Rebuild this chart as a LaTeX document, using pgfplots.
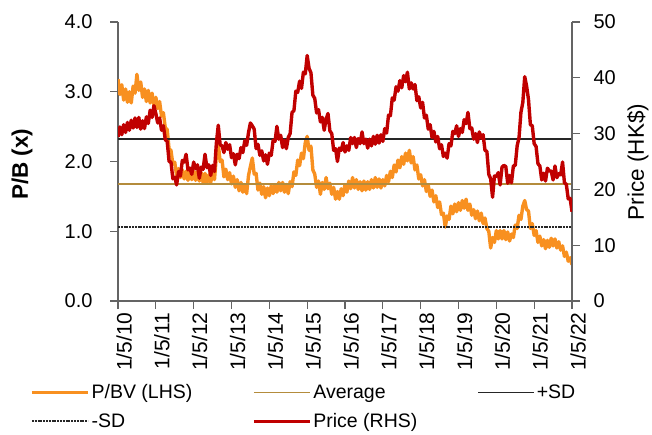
\documentclass[border=0pt]{standalone}
\usepackage{fontspec}
\setmainfont{Liberation Sans}
\usepackage{pgfplots}
\usepackage{pgfplotstable}
\pgfplotsset{compat=1.18}
\definecolor{pbor}{RGB}{248,144,32}
\definecolor{prred}{RGB}{192,0,0}
\definecolor{avtan}{RGB}{180,140,60}
\definecolor{axgray}{RGB}{100,100,100}

\pgfplotstableread{
x y
2010.00 3.18
2010.05 2.96
2010.10 3.10
2010.15 2.88
2010.20 3.04
2010.25 2.85
2010.30 3.00
2010.35 2.84
2010.40 3.08
2010.45 2.98
2010.50 3.25
2010.55 3.02
2010.60 3.14
2010.65 2.92
2010.70 3.04
2010.75 2.86
2010.80 3.02
2010.85 2.84
2010.90 2.98
2010.95 2.80
2011.00 2.92
2011.05 2.76
2011.10 2.86
2011.15 2.65
2011.20 2.70
2011.25 2.48
2011.30 2.46
2011.35 2.18
2011.40 2.16
2011.45 1.96
2011.50 1.99
2011.55 1.79
2011.60 1.90
2011.65 1.77
2011.70 1.88
2011.75 1.75
2011.80 1.86
2011.85 1.73
2011.90 1.87
2011.95 1.74
2012.00 1.86
2012.05 1.73
2012.10 1.86
2012.15 1.72
2012.20 1.84
2012.25 1.70
2012.30 1.83
2012.35 1.69
2012.40 1.81
2012.45 1.70
2012.50 1.84
2012.55 1.74
2012.60 2.08
2012.65 2.25
2012.70 2.00
2012.75 2.02
2012.80 1.78
2012.85 1.89
2012.90 1.74
2012.95 1.84
2013.00 1.68
2013.05 1.79
2013.10 1.63
2013.15 1.74
2013.20 1.58
2013.25 1.70
2013.30 1.56
2013.35 1.67
2013.40 1.54
2013.45 1.80
2013.50 1.93
2013.55 2.05
2013.60 1.82
2013.65 1.83
2013.70 1.59
2013.75 1.69
2013.80 1.53
2013.85 1.64
2013.90 1.48
2013.95 1.62
2014.00 1.51
2014.05 1.65
2014.10 1.54
2014.15 1.67
2014.20 1.56
2014.25 1.70
2014.30 1.58
2014.35 1.70
2014.40 1.56
2014.45 1.67
2014.50 1.54
2014.55 1.71
2014.60 1.64
2014.65 1.85
2014.70 1.80
2014.75 2.02
2014.80 1.94
2014.85 2.12
2014.90 2.04
2014.95 2.27
2015.00 2.36
2015.05 2.16
2015.10 2.22
2015.15 1.88
2015.20 1.82
2015.25 1.63
2015.30 1.72
2015.35 1.53
2015.40 1.70
2015.45 1.60
2015.50 1.77
2015.55 1.61
2015.60 1.69
2015.65 1.53
2015.70 1.63
2015.75 1.46
2015.80 1.57
2015.85 1.46
2015.90 1.61
2015.95 1.51
2016.00 1.67
2016.05 1.56
2016.10 1.72
2016.15 1.61
2016.20 1.77
2016.25 1.62
2016.30 1.74
2016.35 1.60
2016.40 1.71
2016.45 1.58
2016.50 1.72
2016.55 1.59
2016.60 1.71
2016.65 1.60
2016.70 1.74
2016.75 1.62
2016.80 1.77
2016.85 1.63
2016.90 1.75
2016.95 1.62
2017.00 1.74
2017.05 1.65
2017.10 1.80
2017.15 1.71
2017.20 1.86
2017.25 1.77
2017.30 1.95
2017.35 1.85
2017.40 2.02
2017.45 1.91
2017.50 2.07
2017.55 1.96
2017.60 2.12
2017.65 2.01
2017.70 2.16
2017.75 1.98
2017.80 2.07
2017.85 1.88
2017.90 1.95
2017.95 1.75
2018.00 1.81
2018.05 1.65
2018.10 1.74
2018.15 1.57
2018.20 1.66
2018.25 1.50
2018.30 1.59
2018.35 1.42
2018.40 1.51
2018.45 1.34
2018.50 1.42
2018.55 1.24
2018.60 1.26
2018.65 1.06
2018.70 1.22
2018.75 1.17
2018.80 1.36
2018.85 1.25
2018.90 1.39
2018.95 1.28
2019.00 1.41
2019.05 1.30
2019.10 1.44
2019.15 1.33
2019.20 1.46
2019.25 1.30
2019.30 1.39
2019.35 1.23
2019.40 1.31
2019.45 1.18
2019.50 1.29
2019.55 1.15
2019.60 1.26
2019.65 1.11
2019.70 1.19
2019.75 1.04
2019.80 1.00
2019.85 0.76
2019.90 0.91
2019.95 0.84
2020.00 1.01
2020.05 0.89
2020.10 1.01
2020.15 0.89
2020.20 1.01
2020.25 0.88
2020.30 0.99
2020.35 0.86
2020.40 0.96
2020.45 0.91
2020.50 1.09
2020.55 1.04
2020.60 1.23
2020.65 1.17
2020.70 1.36
2020.75 1.44
2020.80 1.31
2020.85 1.29
2020.90 1.04
2020.95 1.11
2021.00 0.94
2021.05 1.01
2021.10 0.84
2021.15 0.93
2021.20 0.79
2021.25 0.88
2021.30 0.75
2021.35 0.87
2021.40 0.77
2021.45 0.90
2021.50 0.79
2021.55 0.89
2021.60 0.76
2021.65 0.85
2021.70 0.73
2021.75 0.79
2021.80 0.64
2021.85 0.70
2021.90 0.57
2021.95 0.62
2022.00 0.52
}\pbtable

\pgfplotstableread{
x y
2010.00 29.4
2010.05 31.2
2010.10 29.8
2010.15 31.6
2010.20 30.2
2010.25 32.0
2010.30 30.6
2010.35 32.4
2010.40 31.0
2010.45 32.8
2010.50 31.1
2010.55 32.9
2010.60 30.8
2010.65 32.3
2010.70 30.9
2010.75 33.0
2010.80 31.8
2010.85 34.2
2010.90 32.9
2010.95 35.0
2011.00 33.6
2011.05 31.9
2011.10 32.8
2011.15 30.6
2011.20 31.4
2011.25 28.9
2011.30 28.6
2011.35 25.0
2011.40 24.9
2011.45 21.9
2011.50 22.2
2011.55 20.8
2011.60 23.2
2011.65 22.4
2011.70 25.2
2011.75 24.9
2011.80 26.3
2011.85 23.5
2011.90 23.8
2011.95 22.7
2012.00 24.9
2012.05 23.7
2012.10 24.4
2012.15 22.0
2012.20 24.0
2012.25 23.6
2012.30 26.3
2012.35 23.9
2012.40 24.4
2012.45 22.5
2012.50 24.3
2012.55 23.2
2012.60 28.3
2012.65 31.5
2012.70 28.0
2012.75 27.8
2012.80 26.6
2012.85 28.4
2012.90 27.2
2012.95 28.0
2013.00 25.7
2013.05 26.4
2013.10 24.4
2013.15 26.3
2013.20 25.5
2013.25 27.5
2013.30 26.6
2013.35 28.7
2013.40 27.9
2013.45 30.2
2013.50 31.9
2013.55 31.4
2013.60 30.8
2013.65 27.3
2013.70 28.1
2013.75 26.1
2013.80 26.9
2013.85 25.1
2013.90 26.2
2013.95 24.5
2014.00 26.5
2014.05 26.1
2014.10 28.8
2014.15 28.6
2014.20 31.3
2014.25 29.0
2014.30 29.7
2014.35 27.5
2014.40 28.8
2014.45 27.3
2014.50 29.3
2014.55 30.0
2014.60 33.8
2014.65 34.1
2014.70 37.6
2014.75 37.4
2014.80 39.4
2014.85 38.1
2014.90 41.0
2014.95 40.7
2015.00 44.0
2015.05 41.7
2015.10 40.9
2015.15 36.9
2015.20 36.3
2015.25 33.7
2015.30 34.3
2015.35 32.1
2015.40 32.9
2015.45 30.6
2015.50 32.6
2015.55 33.6
2015.60 30.5
2015.65 30.0
2015.70 27.0
2015.75 27.3
2015.80 25.0
2015.85 27.4
2015.90 27.0
2015.95 28.4
2016.00 26.7
2016.05 27.8
2016.10 27.0
2016.15 29.3
2016.20 28.2
2016.25 29.3
2016.30 27.5
2016.35 29.1
2016.40 28.2
2016.45 30.3
2016.50 28.2
2016.55 29.0
2016.60 27.4
2016.65 29.0
2016.70 27.8
2016.75 29.5
2016.80 28.1
2016.85 29.7
2016.90 28.3
2016.95 29.8
2017.00 28.6
2017.05 30.9
2017.10 30.1
2017.15 33.3
2017.20 33.2
2017.25 36.4
2017.30 36.0
2017.35 38.4
2017.40 37.6
2017.45 39.5
2017.50 38.2
2017.55 40.4
2017.60 39.3
2017.65 41.0
2017.70 38.0
2017.75 39.1
2017.80 38.0
2017.85 38.8
2017.90 35.9
2017.95 36.6
2018.00 34.6
2018.05 35.6
2018.10 32.8
2018.15 33.3
2018.20 30.8
2018.25 31.6
2018.30 29.3
2018.35 30.4
2018.40 28.5
2018.45 29.5
2018.50 27.3
2018.55 28.0
2018.60 25.9
2018.65 26.5
2018.70 25.6
2018.75 28.2
2018.80 27.8
2018.85 30.4
2018.90 30.0
2018.95 31.4
2019.00 29.5
2019.05 30.9
2019.10 30.2
2019.15 32.5
2019.20 31.8
2019.25 33.8
2019.30 30.9
2019.35 31.0
2019.40 29.0
2019.45 30.0
2019.50 28.4
2019.55 30.3
2019.60 29.2
2019.65 29.8
2019.70 27.0
2019.75 26.8
2019.80 22.7
2019.85 21.9
2019.90 18.6
2019.95 22.4
2020.00 22.3
2020.05 23.0
2020.10 20.8
2020.15 24.0
2020.20 24.3
2020.25 24.1
2020.30 21.1
2020.35 22.5
2020.40 21.2
2020.45 24.2
2020.50 24.3
2020.55 27.8
2020.60 29.3
2020.65 33.8
2020.70 35.6
2020.75 40.2
2020.80 38.5
2020.85 36.1
2020.90 31.6
2020.95 31.4
2021.00 28.2
2021.05 27.7
2021.10 24.6
2021.15 24.2
2021.20 21.7
2021.25 22.9
2021.30 21.5
2021.35 23.8
2021.40 23.3
2021.45 23.3
2021.50 21.7
2021.55 24.2
2021.60 22.1
2021.65 22.8
2021.70 22.6
2021.75 24.9
2021.80 21.2
2021.85 20.9
2021.90 18.3
2021.95 18.4
2022.00 16.0
}\pricetable

\begin{document}
\begin{tikzpicture}
\useasboundingbox (0,0) rectangle (652pt,434pt);
\pgfplotsset{
  every axis/.append style={
    at={(118pt,133pt)}, anchor=south west,
    scale only axis, width=454pt, height=279pt,
    xmin=2010, xmax=2022,
    axis line style={draw=axgray, line width=1.3pt},
    tick style={draw=axgray, line width=1.2pt},
    tick align=outside, major tick length=8pt,
    tick label style={font=\fontsize{20}{24}\selectfont, text=black},
    /pgf/number format/assume math mode=true,
    label style={font=\fontsize{22.5}{26}\selectfont},
  }
}
\begin{axis}[
  axis y line*=left, axis x line*=bottom,
  ymin=0, ymax=4, ytick={0,1,2,3,4},
  yticklabel style={/pgf/number format/.cd, fixed, fixed zerofill, precision=1, /tikz/.cd, xshift=-14pt},
  xtick={2010,2011,...,2022},
  xticklabels={1/5/10,1/5/11,1/5/12,1/5/13,1/5/14,1/5/15,1/5/16,1/5/17,1/5/18,1/5/19,1/5/20,1/5/21,1/5/22},
  xticklabel style={rotate=90, anchor=east, yshift=-6pt, font=\fontsize{21}{24}\selectfont},
  ylabel={\bfseries P/B (x)},
  ylabel style={at={(axis description cs:-0.2115,0.49)}, anchor=center, rotate=0},
  legend columns=3,
  legend style={draw=none, fill=none, at={(axis description cs:-0.1938,-0.292)}, anchor=north west,
    font=\fontsize{19.5}{23}\selectfont, inner sep=0pt, row sep=9pt,
    /tikz/every even column/.append style={column sep=58pt}},
  legend cell align=left,
  legend image code/.code={\draw[#1] (0pt,0pt) -- (56pt,0pt);},
]
\addplot[pbor, line width=3.4pt, line join=round] table[x=x,y=y] {\pbtable};
\addlegendentry{P/BV (LHS)}
\addplot[avtan, line width=1.5pt] coordinates {(2010,1.68) (2022,1.68)};
\addlegendentry{Average}
\addplot[black!85, line width=1.4pt] coordinates {(2010,2.32) (2022,2.32)};
\addlegendentry{+SD}
\addplot[black!85, line width=1.4pt, dash pattern=on 2pt off 0.8pt] coordinates {(2010,1.06) (2022,1.06)};
\addlegendentry{-SD}
\addlegendimage{prred, line width=3pt}
\addlegendentry{Price (RHS)}
\end{axis}
\begin{axis}[
  axis y line*=right, axis x line=none,
  ymin=0, ymax=50, ytick={0,10,20,30,40,50},
  yticklabel style={xshift=10pt},
  ylabel={Price (HK\$)},
  ylabel style={at={(axis description cs:1.145,0.498)}, anchor=center, rotate=0},
]
\addplot[prred, line width=3.4pt, line join=round] table[x=x,y=y] {\pricetable};
\end{axis}
\end{tikzpicture}
\end{document}
